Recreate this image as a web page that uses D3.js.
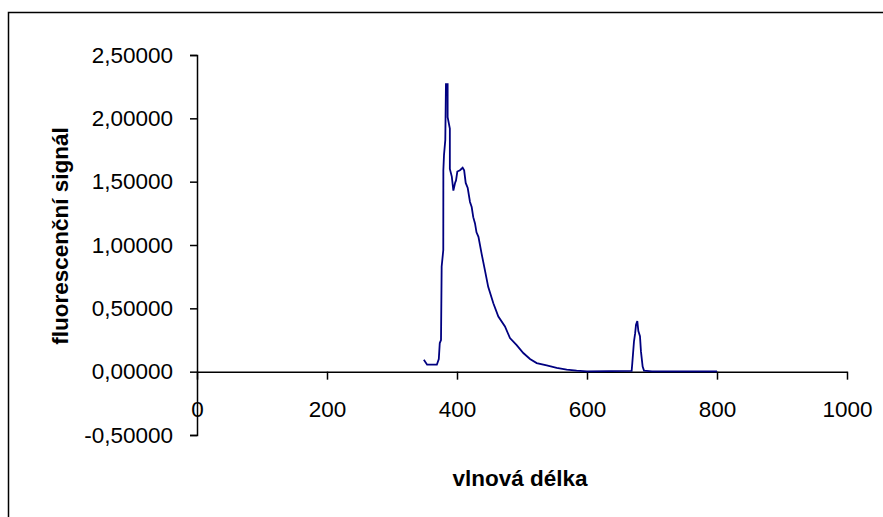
<!DOCTYPE html>
<html>
<head>
<meta charset="utf-8">
<script src="https://cdn.jsdelivr.net/npm/d3@7"></script>
<style>
  body { margin: 0; background: #fff; }
  text { font-family: "Liberation Sans", Arial, sans-serif; }
</style>
</head>
<body>
<svg id="chart" width="883" height="517"></svg>
<script>
// wavelength (nm) and fluorescence signal
const wavelength = [349, 354, 369, 372, 373.5, 375.4, 376.4, 378.9, 379, 380, 382, 383, 385.6, 385.6, 389, 389,
  392, 394.4, 397, 398.5, 400.5, 404.6, 408.7, 411, 413.4, 416.5, 420, 422.6, 425, 427.7, 430, 433, 437.9,
  443, 448, 455.9, 463.6, 473.8, 481.5, 491.8, 502, 512.3, 522.6, 538, 553.4, 568.8, 584, 600, 668.7,
  669.7, 672.3, 674, 675.4, 677.4, 679, 681.5, 683, 685.6, 687.7, 700, 750, 800];
const signal = [0.094, 0.055, 0.055, 0.10, 0.226, 0.25, 0.83, 0.96, 1.59, 1.71, 1.83, 2.27, 2.27, 2.01, 1.92, 1.60,
  1.54, 1.43, 1.49, 1.51, 1.58, 1.59, 1.61, 1.59, 1.49, 1.45, 1.34, 1.30, 1.22, 1.17, 1.10, 1.065, 0.93,
  0.80, 0.67, 0.54, 0.435, 0.357, 0.265, 0.21, 0.147, 0.10, 0.068, 0.05, 0.029, 0.016, 0.008, 0.003, 0.006,
  0.068, 0.24, 0.30, 0.37, 0.40, 0.32, 0.28, 0.16, 0.04, 0.008, 0.002, 0.002, 0.002];
const xTicks = [0, 200, 400, 600, 800, 1000];
const yTicks = [-0.5, 0, 0.5, 1.0, 1.5, 2.0, 2.5];

const fontSize = 22.5;
const svg = d3.select('#chart');

// outer frame (runs off right/bottom edges like the original)
svg.append('rect')
  .attr('x', 8.5).attr('y', 12.5)
  .attr('width', 900).attr('height', 600)
  .attr('fill', 'none').attr('stroke', '#000').attr('stroke-width', 1.5);

const x = d3.scaleLinear().domain([0, 1000]).range([197, 847]);
const y = d3.scaleLinear().domain([-0.5, 2.5]).range([435, 55]);

// excel style: comma decimal, plain hyphen minus
const fmt = d => d.toFixed(5).replace('.', ',');

// y axis
const yAxis = svg.append('g')
  .attr('transform', 'translate(' + x(0) + ',0)')
  .call(d3.axisLeft(y).tickValues(yTicks).tickSize(7).tickPadding(17).tickFormat(fmt));
yAxis.select('.domain').attr('stroke-width', 1.5);
yAxis.selectAll('.tick line').attr('stroke-width', 1.5);
yAxis.selectAll('text').attr('font-size', fontSize).attr('fill', '#000')
  .attr('font-family', '"Liberation Sans", Arial, sans-serif');

// x axis sits at zero
const xAxis = svg.append('g')
  .attr('transform', 'translate(0,' + y(0) + ')')
  .call(d3.axisBottom(x).tickValues(xTicks).tickSize(8).tickPadding(21).tickSizeOuter(0)
    .tickFormat(d3.format('d')));
xAxis.select('.domain').attr('stroke-width', 1.5);
xAxis.selectAll('.tick line').attr('stroke-width', 1.5);
xAxis.selectAll('text').attr('font-size', fontSize).attr('fill', '#000')
  .attr('font-family', '"Liberation Sans", Arial, sans-serif');

// data line
const pts = wavelength.map((w, i) => [w, signal[i]]);
svg.append('path')
  .datum(pts)
  .attr('fill', 'none')
  .attr('stroke', '#000080')
  .attr('stroke-width', 1.8)
  .attr('d', d3.line().x(d => x(d[0])).y(d => y(d[1])));

// axis titles
svg.append('text')
  .attr('x', 520).attr('y', 486)
  .attr('text-anchor', 'middle')
  .attr('font-size', fontSize).attr('font-weight', 'bold')
  .text('vlnová délka');

svg.append('text')
  .attr('transform', 'translate(68,236) rotate(-90)')
  .attr('text-anchor', 'middle')
  .attr('font-size', fontSize).attr('font-weight', 'bold')
  .text('fluorescenční signál');
</script>
</body>
</html>
